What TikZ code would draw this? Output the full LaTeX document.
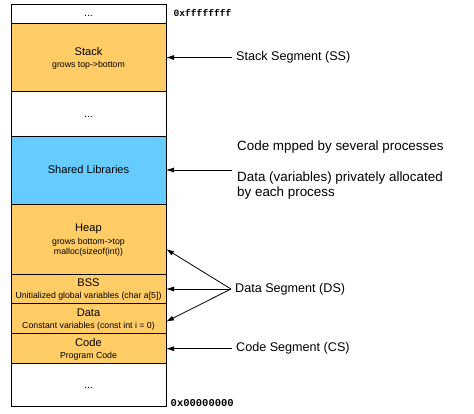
\documentclass[tikz,border=0pt]{standalone}
\usepackage{fontspec}
\setmainfont{Liberation Sans}
\newfontfamily\hexfont{Liberation Mono}
\usetikzlibrary{arrows.meta,calc}
\definecolor{segorange}{HTML}{FFCC66}
\definecolor{segblue}{HTML}{66CCFF}
\begin{document}
\begin{tikzpicture}[x=1pt,y=-1pt,
  seg/.style={draw=black, line width=1pt, minimum width=155pt, inner sep=0pt, outer sep=0pt},
  orangeseg/.style={seg, fill=segorange},
  blueseg/.style={seg, fill=segblue},
  whiteseg/.style={seg, fill=white},
  segtitle/.style={inner sep=0pt, font=\fontsize{11.1}{13}\selectfont},
  segsub/.style={inner sep=0pt, font=\fontsize{8.75}{10}\selectfont},
  dotstext/.style={inner sep=0pt, font=\fontsize{10.5}{12}\selectfont},
  sidelabel/.style={anchor=west, inner xsep=4pt, inner ysep=0pt, font=\fontsize{12.6}{15}\selectfont},
  desclabel/.style={anchor=west, inner xsep=4pt, inner ysep=0pt, align=left, font=\fontsize{13.4}{15}\selectfont},
  hexlabel/.style={anchor=west, inner sep=0pt, font=\hexfont\bfseries},
  arr/.style={-{Latex[length=8pt,width=5pt]}, line width=0.8pt, black}
]
\useasboundingbox (0,0) rectangle (474,413);

% segments
\node[whiteseg,  minimum height=19pt]   (top)    at (88.5,13.5)   {};
\node[orangeseg, minimum height=68.5pt] (stack)  at (88.5,57.25)  {};
\node[whiteseg,  minimum height=44.5pt] (gap)    at (88.5,113.75) {};
\node[blueseg,   minimum height=68pt]   (shared) at (88.5,170)    {};
\node[orangeseg, minimum height=70pt]   (heap)   at (88.5,239)    {};
\node[orangeseg, minimum height=29.7pt] (bss)    at (88.5,288.85) {};
\node[orangeseg, minimum height=30pt]   (data)   at (88.5,318.7)  {};
\node[orangeseg, minimum height=30pt]   (code)   at (88.5,348.7)  {};
\node[whiteseg,  minimum height=42.3pt] (bottom) at (88.5,384.85) {};

% texts inside
\node[dotstext] (topdots) at (88.5,16) {...};
\node[segtitle] (stackt) at (88.5,52) {Stack};
\node[segsub]   (stacks) at (88.5,65) {grows top->bottom};
\node[dotstext] (gapdots) at (88.5,117) {...};
\node[segtitle] (sharedt) at (88.5,170) {Shared Libraries};
\node[segtitle] (heapt) at (88.5,229) {Heap};
\node[segsub]   (heaps1) at (88.5,242) {grows bottom->top};
\node[segsub]   (heaps2) at (88.5,252.5) {malloc(sizeof(int))};
\node[segtitle] (bsst) at (88.5,283) {BSS};
\node[segsub]   (bsss) at (88.5,296) {Unitialized global variables (char a[5])};
\node[segtitle] (datat) at (88.5,313) {Data};
\node[segsub]   (datas) at (88.5,326) {Constant variables (const int i = 0)};
\node[segtitle] (codet) at (88.5,343) {Code};
\node[segsub]   (codes) at (88.5,356) {Program Code};
\node[dotstext] (botdots) at (88.5,388) {...};

% address labels
\node[hexlabel, font=\hexfont\bfseries\fontsize{9.6}{11}\selectfont] (hexhi) at (173.5,12.5) {0xffffffff};
\node[hexlabel, font=\hexfont\bfseries\fontsize{10.5}{12}\selectfont] (hexlo) at (170.5,403.5) {0x00000000};

% side labels
\node[sidelabel] (ss) at (232,57.5) {Stack Segment (SS)};
\node[desclabel] (mapped) at (233,147) {Code mpped by several processes};
\node[desclabel] (private) at (233,185.5) {Data (variables) privately allocated\\by each process};
\coordinate (slend) at (232,170);
\node[sidelabel] (ds) at (231,289) {Data Segment (DS)};
\node[sidelabel] (cs) at (232,348.7) {Code Segment (CS)};

% arrows
\draw[arr] (ss.west) -- (ss.west -| stack.east);
\draw[arr, line width=0.6pt] (slend) -- (slend -| shared.east);
\draw[arr] (ds.west) -- ($(heap.south east)+(0,-25)$);
\draw[arr] (ds.west) -- (ds.west -| bss.east);
\draw[arr] (ds.west) -- ($(data.east)+(0,3)$);
\draw[arr] (cs.west) -- (cs.west -| code.east);
\end{tikzpicture}
\end{document}
